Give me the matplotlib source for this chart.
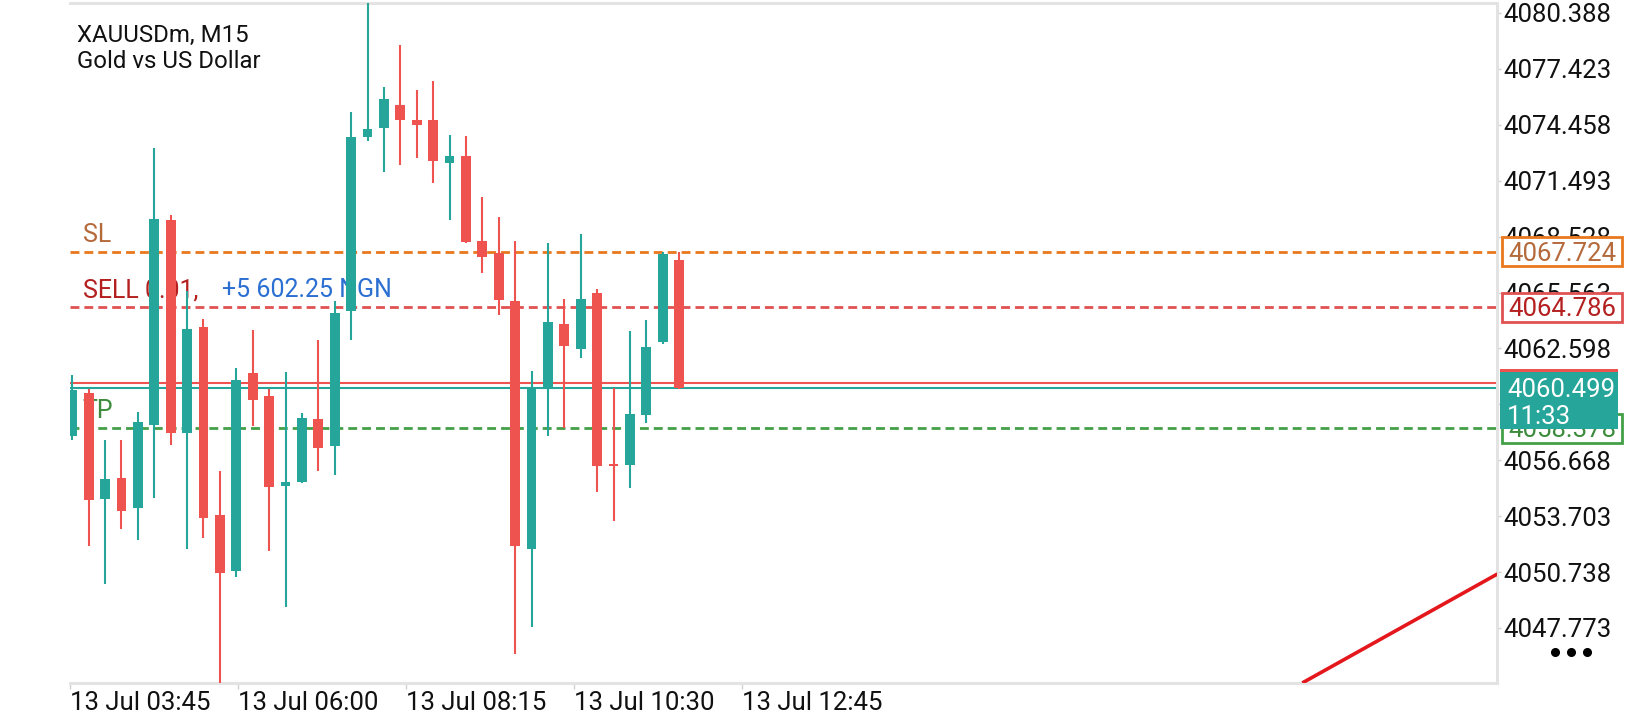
import matplotlib
matplotlib.use('Agg')
import matplotlib.pyplot as plt
from matplotlib.transforms import blended_transform_factory
from matplotlib.lines import Line2D
from matplotlib.patches import Rectangle

plt.rcParams['font.family'] = ['Roboto', 'DejaVu Sans']

# ---------------- data ----------------
opens = [4057.95, 4060.22, 4054.60, 4055.73, 4054.16, 4058.54, 4069.41, 4058.11, 4063.75, 4053.79,
         4050.82, 4061.27, 4060.06, 4055.31, 4055.49, 4058.84, 4057.41, 4064.59, 4073.79, 4074.28,
         4075.50, 4074.70, 4074.72, 4072.41, 4072.81, 4068.29, 4067.66, 4065.13, 4051.98, 4060.52,
         4063.92, 4062.58, 4065.55, 4056.48, 4056.43, 4059.07, 4062.93, 4067.31]
highs = [4061.18, 4060.45, 4057.76, 4057.76, 4059.24, 4073.23, 4069.65, 4065.67, 4064.17, 4056.08,
         4061.55, 4063.56, 4060.45, 4061.34, 4059.19, 4063.03, 4065.13, 4075.14, 4081.00, 4076.48,
         4078.68, 4076.31, 4076.78, 4073.93, 4073.86, 4070.63, 4069.58, 4068.29, 4061.39, 4068.20,
         4065.20, 4068.66, 4065.74, 4060.48, 4063.52, 4064.10, 4067.73, 4067.73]
lows = [4057.72, 4052.10, 4050.11, 4053.04, 4052.45, 4054.68, 4057.48, 4051.98, 4052.57, 4044.70,
        4050.46, 4058.47, 4051.87, 4048.87, 4055.45, 4056.08, 4055.89, 4063.05, 4073.58, 4071.94,
        4072.34, 4072.69, 4071.35, 4069.41, 4068.20, 4066.61, 4064.38, 4046.42, 4047.84, 4057.95,
        4058.37, 4062.11, 4054.98, 4053.44, 4055.19, 4058.65, 4062.82, 4060.45]
closes = [4060.41, 4054.56, 4055.66, 4053.97, 4058.72, 4069.46, 4058.11, 4063.61, 4053.62, 4050.70,
          4060.94, 4059.89, 4055.24, 4055.49, 4058.89, 4057.30, 4064.50, 4073.81, 4074.26, 4075.85,
          4074.70, 4074.44, 4072.52, 4072.81, 4068.24, 4067.47, 4065.16, 4052.10, 4060.52, 4063.99,
          4062.75, 4065.20, 4056.36, 4056.36, 4059.12, 4062.70, 4067.59, 4060.499]

price_ticks = [4080.388, 4077.423, 4074.458, 4071.493, 4068.528, 4065.563, 4062.598,
               4059.633, 4056.668, 4053.703, 4050.738, 4047.773]
time_labels = ['13 Jul 03:45', '13 Jul 06:00', '13 Jul 08:15', '13 Jul 10:30', '13 Jul 12:45']
time_tick_pos = [-0.14, 10.1, 20.35, 30.6, 40.85]

sl_price = 4067.724
sell_price = 4064.786
tp_price = 4058.378
bid_price = 4060.499
ask_price = 4060.74
bar_time = '11:33'
trend_x = [75.0, 86.9]
trend_y = [4044.86, 4050.64]

TEAL = '#26a69a'
RED = '#ef5350'

# ---------------- figure ----------------
fig = plt.figure(figsize=(16.4, 7.2), dpi=100)
ax = fig.add_axes([70 / 1640, 1 - 683 / 720, 1427 / 1640, 680 / 720])
ax.set_xlim(-0.14, 86.87)
ax.set_ylim(4044.856, 4080.918)
PX = (4080.918 - 4044.856) / 680.0   # price units per pixel
AXW = 1427.0                          # axes width in pixels

# candles
n = len(opens)
xs = list(range(n))
cols = [TEAL if c >= o else RED for o, c in zip(opens, closes)]
ax.vlines(xs, lows, highs, colors=cols, linewidth=1.5, zorder=3)
bottoms = [min(o, c) for o, c in zip(opens, closes)]
heights = [max(abs(c - o), 0.12) for o, c in zip(opens, closes)]
ax.bar(xs, heights, bottom=bottoms, width=0.6, color=cols, linewidth=0, zorder=4)

# order lines
dash = (0, (3.2, 1.8))
ax.axhline(sl_price, color='#e8781e', lw=2, ls=dash, zorder=2)
ax.axhline(sell_price, color='#e05252', lw=2, ls=dash, zorder=2)
ax.axhline(tp_price, color='#43a047', lw=2, ls=dash, zorder=2)
ax.axhline(ask_price, color=RED, lw=1.5, zorder=2)
ax.axhline(bid_price, color=TEAL, lw=1.5, zorder=2)

# trend line
ax.plot(trend_x, trend_y, color='#e3171c', lw=2.6, zorder=3, solid_capstyle='butt')

# labels on lines
tb = blended_transform_factory(ax.transAxes, ax.transData)
lab_fs = 18
ax.text(0.0089, sl_price + 0.9, 'SL', transform=tb, color='#b56a3c', fontsize=lab_fs, va='center', zorder=1)
ax.text(0.0089, sell_price + 0.9, 'SELL 0.01,', transform=tb, color='#b3201f', fontsize=lab_fs, va='center', zorder=1)
ax.text(0.1065, sell_price + 0.9, '+5 602.25 NGN', transform=tb, color='#2a6fd1', fontsize=lab_fs, va='center', zorder=1)
ax.text(0.0089, tp_price + 0.9, 'TP', transform=tb, color='#3c8c3c', fontsize=lab_fs, va='center', zorder=1)

# spines / axes
ax.spines['left'].set_visible(False)
for s in ['top', 'bottom', 'right']:
    ax.spines[s].set_color('#e3e3e3')
    ax.spines[s].set_linewidth(2.2)
ax.yaxis.tick_right()
ax.set_yticks(price_ticks, [f'{p:.3f}' for p in price_ticks])
ax.tick_params(axis='y', length=3, width=1, color='#d0d0d0', pad=1.5, labelsize=18.5, labelcolor='#111111')
ax.set_xticks(time_tick_pos, time_labels)
for lbl in ax.get_xticklabels():
    lbl.set_horizontalalignment('left')
ax.tick_params(axis='x', length=4, width=1, color='#d0d0d0', pad=2, labelsize=18.5, labelcolor='#111111')

# right-side price boxes
fs_box = 18.5
cap = 0.711 * fs_box / 72 * 100 * PX      # half of this centres digits on the price

def price_box(price, text, fc, ec, tc, x0px=5, wpx=120, hpx=29, z=6):
    ax.add_patch(Rectangle((1 + x0px / AXW, price - hpx / 2 * PX), wpx / AXW, hpx * PX,
                           transform=tb, clip_on=False, fc=fc, ec=ec, lw=2, zorder=z))
    ax.text(1 + (x0px + 6) / AXW, price - cap / 2, text, transform=tb, color=tc, fontsize=fs_box,
            va='baseline', ha='left', clip_on=False, zorder=z + 0.5)

price_box(sl_price, f'{sl_price:.3f}', 'white', '#e8781e', '#b56a3c')
price_box(sell_price, f'{sell_price:.3f}', 'white', '#e05252', '#b3201f')
price_box(tp_price, f'{tp_price:.3f}', 'white', '#43a047', '#3c8c3c')
# ask box (mostly hidden) and bid box with bar timer
ax.add_patch(Rectangle((1 + 3 / AXW, ask_price - 14 * PX), 118 / AXW, 28 * PX,
                       transform=tb, clip_on=False, fc=RED, ec='none', zorder=8))
ax.add_patch(Rectangle((1 + 3 / AXW, bid_price - 41 * PX), 118 / AXW, 57 * PX,
                       transform=tb, clip_on=False, fc=TEAL, ec='none', zorder=9))
ax.text(1 + 10 / AXW, bid_price - cap / 2, f'{bid_price:.3f}', transform=tb, color='white',
        fontsize=fs_box, va='baseline', ha='left', clip_on=False, zorder=10)
ax.text(1 + 10 / AXW, bid_price - 27 * PX - cap / 2, bar_time, transform=tb, color='white',
        fontsize=fs_box, va='baseline', ha='left', clip_on=False, zorder=10)

# header
fig.text(77 / 1640, 1 - 35 / 720, 'XAUUSDm, M15', fontsize=17.3, va='center', ha='left', color='#111111')
fig.text(77 / 1640, 1 - 62 / 720, 'Gold vs US Dollar', fontsize=17.3, va='center', ha='left', color='#111111')

# menu dots
fig.add_artist(Line2D([1555 / 1640, 1571 / 1640, 1587 / 1640], [1 - 652 / 720] * 3,
                      transform=fig.transFigure, ls='none', marker='o', ms=5.5, color='black'))

fig.savefig('out.png', dpi=100)
